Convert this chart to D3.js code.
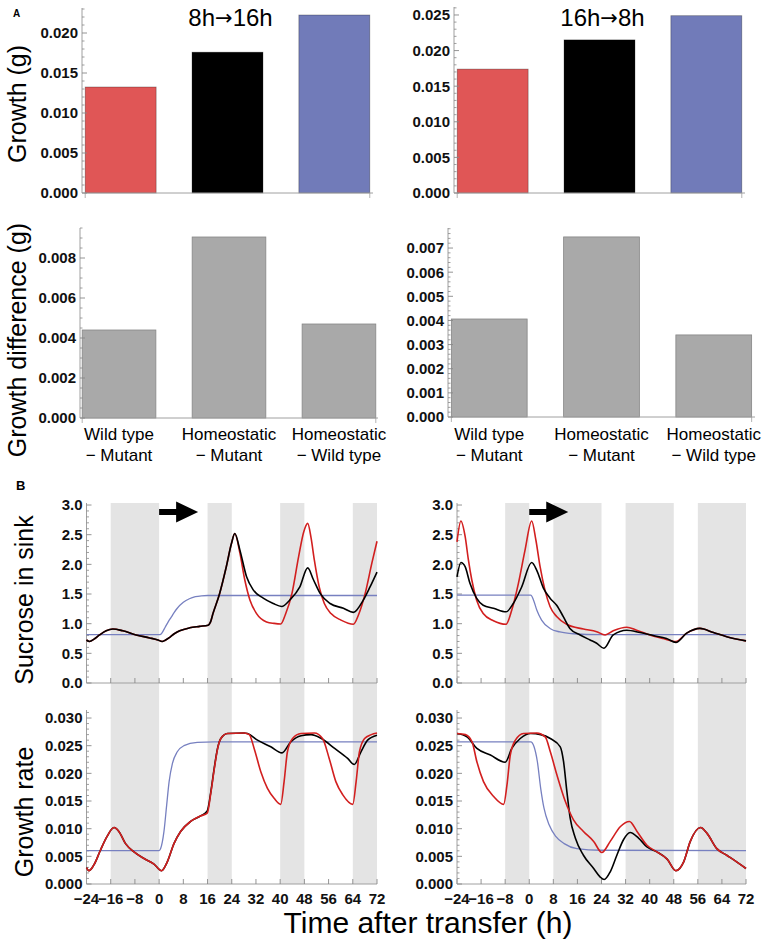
<!DOCTYPE html>
<html><head><meta charset="utf-8">
<script src="https://cdn.jsdelivr.net/npm/d3@7"></script>
<style>body{margin:0;background:#fff}</style>
</head><body><svg id="c" width="767" height="947"></svg>
<script>
// ---------- DATA ----------
const categories = ["Mutant", "Wild type", "Homeostatic"];
const barColors = ["#e05656", "#000000", "#717bb9"];
const growth8to16 = [0.01325, 0.0176, 0.02225];
const growth16to8 = [0.0174, 0.0215, 0.0249];
const diffLabels = [["Wild type", "− Mutant"], ["Homeostatic", "− Mutant"], ["Homeostatic", "− Wild type"]];
const diff8to16 = [0.0044, 0.00905, 0.0047];
const diff16to8 = [0.00406, 0.00746, 0.0034];
const titles = [["8h", "16h"], ["16h", "8h"]];
const timeTicks = [-24, -16, -8, 0, 8, 16, 24, 32, 40, 48, 56, 64, 72];
const dark8to16 = [[-16, 0], [16, 24], [40, 48], [64, 72]];
const dark16to8 = [[-8, 0], [8, 24], [32, 48], [56, 72]];

// Sucrose in sink, 8h -> 16h
const sucLD_homeo = [[-24,0.815],[0,0.815],[0.5,0.82],[1,0.85],[2,0.94],[3,1.03],[4,1.11],[5,1.19],[6,1.26],[8,1.36],[10,1.42],[12,1.455],[14,1.47],[16,1.475],[72,1.475]];
const sucLD_wt = [[-24,0.725],[-23,0.70],[-21.5,0.74],[-19.7,0.81],[-17.5,0.88],[-15.3,0.91],[-12,0.88],[-7.6,0.81],[-3.1,0.76],[-0.4,0.725],[1,0.70],[2,0.72],[3.5,0.77],[5,0.83],[6.8,0.88],[10.1,0.93],[13.4,0.955],[16.2,0.975],[17,1.03],[17.8,1.17],[20,1.51],[22.2,1.96],[23.9,2.35],[25,2.52],[26.7,2.24],[28.9,1.79],[31.1,1.57],[34.4,1.43],[37.7,1.34],[40.5,1.29],[43.2,1.40],[46.5,1.62],[49.1,1.94],[51,1.74],[53.2,1.51],[56.5,1.34],[60.9,1.26],[64.2,1.19],[67.5,1.40],[69.7,1.62],[72,1.87]];
const sucLD_mut = [[-24,0.725],[-23,0.70],[-21.5,0.74],[-19.7,0.81],[-17.5,0.88],[-15.3,0.91],[-12,0.88],[-7.6,0.81],[-3.1,0.76],[-0.4,0.725],[1,0.70],[2,0.72],[3.5,0.77],[5,0.83],[6.8,0.88],[10.1,0.93],[13.4,0.955],[16.2,0.975],[17,1.03],[17.8,1.17],[20,1.51],[22.2,1.96],[23.9,2.35],[25,2.52],[26.7,2.19],[28.3,1.74],[30,1.40],[32.2,1.17],[35.5,1.03],[38,1.005],[40.2,0.995],[41.7,1.15],[43.9,1.51],[46.1,2.13],[47.8,2.55],[49.1,2.69],[50.2,2.45],[51.3,2.07],[52.9,1.62],[54.6,1.34],[56.8,1.17],[60.1,1.06],[64.2,0.99],[65.9,1.15],[68.1,1.51],[70.3,2.02],[72,2.39]];

// Sucrose in sink, 16h -> 8h
const sucSD_homeo = [[-24,1.48],[0.5,1.48],[1.4,1.40],[2.5,1.23],[4.1,1.06],[6.9,0.92],[10.2,0.86],[14.6,0.83],[23.5,0.815],[72,0.815]];
const sucSD_wt = [[-24,1.79],[-22.7,2.03],[-21.3,1.96],[-19.7,1.68],[-17.5,1.43],[-15.3,1.31],[-11.9,1.26],[-7.7,1.20],[-5.3,1.34],[-2.5,1.62],[0.8,2.03],[2.5,1.90],[4.7,1.60],[6.9,1.43],[9.1,1.31],[11.3,1.12],[13.5,0.92],[16.9,0.81],[20.2,0.725],[22.4,0.67],[24.8,0.585],[27.9,0.81],[32.4,0.89],[36.8,0.85],[41.2,0.80],[45.6,0.75],[48.7,0.685],[52.3,0.84],[56.7,0.92],[61.2,0.85],[65.6,0.78],[72,0.71]];
const sucSD_mut = [[-24,2.38],[-22.7,2.73],[-21.3,2.47],[-20.2,2.07],[-19.1,1.74],[-17.5,1.40],[-15.3,1.17],[-11.9,1.05],[-7.7,0.99],[-5.8,1.23],[-3.6,1.68],[-1.4,2.24],[0.8,2.73],[2.2,2.41],[3.6,1.96],[5.2,1.57],[6.9,1.29],[9.1,1.12],[12.4,0.99],[18,0.91],[22.4,0.865],[25.2,0.81],[27.9,0.88],[32.4,0.94],[35.7,0.89],[40.1,0.81],[44.5,0.75],[48.7,0.70],[52.3,0.84],[56.7,0.92],[61.2,0.85],[65.6,0.78],[72,0.71]];

// Growth rate, 8h -> 16h
const grLD_homeo = [[-24,0.00605],[0,0.00605],[0.5,0.0064],[1.6,0.0095],[2.5,0.0143],[3.3,0.0185],[4.4,0.0218],[6,0.0239],[8.2,0.025],[12.6,0.0256],[18.2,0.0257],[72,0.0257]];
const grLD_wt = [[-24,0.00295],[-23.2,0.0024],[-21.6,0.0034],[-19.4,0.0061],[-17.2,0.0086],[-14.9,0.0102],[-13.3,0.0095],[-11.1,0.0073],[-8.3,0.0058],[-5,0.0046],[-1.7,0.0036],[0.8,0.0024],[2.7,0.004],[4.9,0.0073],[7.1,0.0095],[10.4,0.0113],[13.7,0.0123],[15.9,0.0132],[17.1,0.0167],[18.2,0.0209],[19.3,0.0245],[20.4,0.0263],[22.6,0.0272],[28.1,0.0273],[29.2,0.0272],[32.5,0.026],[36.9,0.0248],[40.6,0.0237],[43.5,0.0257],[46.9,0.0268],[50.2,0.027],[53.6,0.0263],[58,0.0245],[62.3,0.0227],[64.5,0.0216],[66.7,0.0239],[68.9,0.026],[72,0.0269]];
const grLD_mut = [[-24,0.00295],[-23.2,0.0024],[-21.6,0.0034],[-19.4,0.0061],[-17.2,0.0086],[-14.9,0.0102],[-13.3,0.0095],[-11.1,0.0073],[-8.3,0.0058],[-5,0.0046],[-1.7,0.0036],[0.8,0.0024],[2.7,0.004],[4.9,0.0073],[7.1,0.0095],[10.4,0.0113],[13.7,0.0123],[15.9,0.0128],[17.1,0.0165],[18.2,0.0207],[19.3,0.0244],[20.4,0.0263],[22.6,0.0272],[28.1,0.0273],[29.8,0.027],[31.4,0.0245],[33.6,0.0203],[35.8,0.0173],[38,0.0155],[40.2,0.0144],[41.3,0.0185],[42.4,0.0239],[44.1,0.0263],[46.9,0.0272],[51.3,0.0273],[54,0.0263],[56.2,0.0227],[58.4,0.0185],[60.7,0.0161],[64,0.0144],[65.1,0.0185],[66.2,0.0239],[67.9,0.0263],[70.1,0.027],[72,0.0273]];

// Growth rate, 16h -> 8h
const grSD_homeo = [[-24,0.0257],[0.5,0.0257],[1.6,0.0248],[2.7,0.0221],[3.8,0.0173],[4.9,0.0137],[6.6,0.0107],[8.8,0.0086],[11.6,0.0073],[15.8,0.0064],[23.6,0.0061],[72,0.00605]];
const grSD_wt = [[-24,0.0272],[-20.7,0.0266],[-17.4,0.0245],[-12.9,0.0233],[-8,0.022],[-5.8,0.0245],[-3,0.0263],[0.5,0.0272],[3.8,0.027],[7,0.0263],[10.3,0.0248],[11.4,0.0221],[12.5,0.0167],[13.6,0.0119],[15.3,0.0083],[18,0.0052],[21.4,0.0028],[23.5,0.0013],[24.9,0.0008],[26.9,0.0022],[29.1,0.0052],[31.3,0.008],[33.5,0.0093],[36.3,0.0083],[39.1,0.0067],[42.4,0.0058],[45.8,0.0045],[48.7,0.0024],[51.3,0.004],[53.5,0.0077],[56.9,0.0102],[59,0.0092],[62.3,0.0064],[65.6,0.0052],[68.9,0.004],[72,0.0028]];
const grSD_mut = [[-24,0.0272],[-21.2,0.027],[-19,0.0257],[-17.4,0.0221],[-15.2,0.0185],[-11.8,0.0158],[-8.5,0.0144],[-7.4,0.0179],[-6.3,0.0233],[-4.6,0.026],[-1.9,0.0272],[2.5,0.0273],[5.3,0.0266],[7,0.0239],[9.2,0.0197],[12,0.0149],[14.7,0.0116],[18,0.0095],[21.4,0.0077],[24.1,0.0057],[26.9,0.0077],[30.3,0.0104],[33.3,0.0113],[35.8,0.0095],[39.1,0.007],[42.4,0.0058],[45.8,0.0045],[48.7,0.0024],[51.3,0.004],[53.5,0.0077],[56.9,0.0102],[59,0.0092],[62.3,0.0064],[65.6,0.0052],[68.9,0.004],[72,0.0028]];

// ---------- DRAWING ----------
const svg = d3.select("#c");
const FONT = "'Liberation Sans', Arial, Helvetica, sans-serif";
const AXIS = "#a0a0a0";
const TICK = "#888";
const LINE_COL = {homeo: "#7780c0", wt: "#000000", mut: "#d21f1f"};

function yAxis(g, y, x, max, major, minor, fmt) {
  g.append("line").attr("x1", x).attr("x2", x).attr("y1", y(0)).attr("y2", y(max))
    .attr("stroke", AXIS).attr("stroke-width", 1);
  const minors = d3.range(0, max + 1e-12, minor).filter(v => Math.abs(v / major - Math.round(v / major)) > 1e-6);
  const majors = d3.range(0, max + 1e-12, major);
  g.selectAll(null).data(minors).join("line")
    .attr("x1", x).attr("x2", x + 2.5).attr("y1", d => y(d)).attr("y2", d => y(d))
    .attr("stroke", TICK).attr("stroke-width", 0.8);
  g.selectAll(null).data(majors).join("line")
    .attr("x1", x).attr("x2", x + 5).attr("y1", d => y(d)).attr("y2", d => y(d))
    .attr("stroke", TICK).attr("stroke-width", 0.9);
  g.selectAll(null).data(majors).join("text")
    .attr("x", x - 4).attr("y", d => y(d)).attr("dy", "0.36em")
    .attr("text-anchor", "end").attr("font-family", FONT).attr("font-weight", "bold")
    .attr("font-size", 15).attr("fill", "#111").text(d => fmt(d));
}

function barPanel(o) {
  const g = svg.append("g");
  const y = d3.scaleLinear().domain([0, o.max]).range([o.yZero, o.yTop]);
  const x = d3.scaleBand().domain(categories).range([o.x0, o.x1]).paddingInner(o.pi).paddingOuter(o.po);
  g.selectAll(null).data(o.values).join("rect")
    .attr("x", (d, i) => x(categories[i])).attr("width", x.bandwidth())
    .attr("y", d => y(d)).attr("height", d => y(0) - y(d))
    .attr("fill", (d, i) => o.colors ? o.colors[i] : "#a9a9a9")
    .attr("stroke", o.colors ? "rgba(0,0,0,0.35)" : "#878787").attr("stroke-width", 0.8);
  g.append("line").attr("x1", o.x0).attr("x2", o.x1).attr("y1", y(0)).attr("y2", y(0))
    .attr("stroke", AXIS).attr("stroke-width", 1);
  [x(categories[0]), x(categories[2]) + x.bandwidth()].forEach(px => {
    g.append("line").attr("x1", px).attr("x2", px).attr("y1", y(0)).attr("y2", y(0) + 5)
      .attr("stroke", AXIS).attr("stroke-width", 0.8);
  });
  yAxis(g, y, o.x0, o.max, o.major, o.minor, d3.format(".3f"));
  if (o.title) {
    const t = g.append("text").attr("x", (o.x0 + o.x1) / 2 + 3).attr("y", 26).attr("text-anchor", "middle")
      .attr("font-family", FONT).attr("font-size", 24);
    t.append("tspan").text(o.title[0]);
    t.append("tspan").attr("font-family", "'DejaVu Sans', sans-serif").attr("font-size", 21).attr("dy", -1).text("→");
    t.append("tspan").attr("dy", 1).text(o.title[1]);
  }
  if (o.labels) {
    o.labels.forEach((lab, i) => {
      const cx = x(categories[i]) + x.bandwidth() / 2;
      g.append("text").attr("x", cx).attr("y", 440).attr("text-anchor", "middle")
        .attr("font-family", FONT).attr("font-size", 17).text(lab[0]);
      g.append("text").attr("x", cx).attr("y", 461).attr("text-anchor", "middle")
        .attr("font-family", FONT).attr("font-size", 17).text(lab[1]);
    });
  }
}

barPanel({x0: 82, x1: 373, yZero: 193, yTop: 8, max: 0.023125, major: 0.005, minor: 0.001,
  values: growth8to16, colors: barColors, pi: 0.336, po: 0.03, title: titles[0]});
barPanel({x0: 454, x1: 745, yZero: 193, yTop: 7, max: 0.02612, major: 0.005, minor: 0.001,
  values: growth16to8, colors: barColors, pi: 0.336, po: 0.03, title: titles[1]});
barPanel({x0: 80, x1: 378, yZero: 418, yTop: 228, max: 0.0095, major: 0.002, minor: 0.0005,
  values: diff8to16, pi: 0.33, po: 0.02, labels: diffLabels});
barPanel({x0: 448, x1: 755, yZero: 417, yTop: 228, max: 0.00783, major: 0.001, minor: 0.0002,
  values: diff16to8, pi: 0.325, po: 0.03, labels: diffLabels});

// ---- Panel B ----
function column(o) {
  const x = d3.scaleLinear().domain([-24, 72]).range([o.x0, o.x1]);
  const g = svg.append("g");
  g.selectAll(null).data(o.dark).join("rect")
    .attr("x", d => x(d[0])).attr("width", d => x(d[1]) - x(d[0]))
    .attr("y", 503).attr("height", 884 - 503).attr("fill", "#e4e4e4");
  const ax = x(0), ay = 512;
  g.append("path").attr("d", d3.line()([[ax, ay - 3], [ax + 17, ay - 3], [ax + 17, ay - 10.5], [ax + 39, ay],
    [ax + 17, ay + 10.5], [ax + 17, ay + 3], [ax, ay + 3]]) + "Z").attr("fill", "#000");

  o.panels.forEach(p => {
    const y = d3.scaleLinear().domain([0, p.max]).range([p.yZero, p.yTop]);
    const pg = g.append("g");
    pg.append("line").attr("x1", o.x0).attr("x2", o.x1).attr("y1", y(0)).attr("y2", y(0))
      .attr("stroke", AXIS).attr("stroke-width", 1);
    pg.selectAll(null).data(timeTicks).join("line")
      .attr("x1", d => x(d)).attr("x2", d => x(d)).attr("y1", y(0)).attr("y2", y(0) - 5)
      .attr("stroke", TICK).attr("stroke-width", 0.9);
    if (p.xLabels) {
      pg.selectAll(null).data(timeTicks).join("text")
        .attr("x", d => x(d)).attr("y", 904).attr("text-anchor", "middle")
        .attr("font-family", FONT).attr("font-weight", "bold").attr("font-size", 15).attr("fill", "#111")
        .text(d => d < 0 ? "−" + Math.abs(d) : d);
    }
    yAxis(pg, y, o.x0, p.max, p.major, p.minor, p.fmt);
    const line = d3.line().x(d => x(d[0])).y(d => y(d[1])).curve(d3.curveMonotoneX);
    p.series.forEach(s => {
      pg.append("path").attr("d", line(s.data)).attr("fill", "none")
        .attr("stroke", LINE_COL[s.key]).attr("stroke-width", s.key === "homeo" ? 1.3 : 1.6);
    });
  });
}

column({x0: 86.5, x1: 377, dark: dark8to16, panels: [
  {yZero: 683, yTop: 503, max: 3.034, major: 0.5, minor: 0.1, fmt: d3.format(".1f"),
   series: [{key: "homeo", data: sucLD_homeo}, {key: "mut", data: sucLD_mut}, {key: "wt", data: sucLD_wt}]},
  {yZero: 884, yTop: 710, max: 0.03145, major: 0.005, minor: 0.001, fmt: d3.format(".3f"), xLabels: true,
   series: [{key: "homeo", data: grLD_homeo}, {key: "wt", data: grLD_wt}, {key: "mut", data: grLD_mut}]}
]});
column({x0: 457, x1: 746, dark: dark16to8, panels: [
  {yZero: 683, yTop: 503, max: 3.034, major: 0.5, minor: 0.1, fmt: d3.format(".1f"),
   series: [{key: "homeo", data: sucSD_homeo}, {key: "mut", data: sucSD_mut}, {key: "wt", data: sucSD_wt}]},
  {yZero: 884, yTop: 710, max: 0.03145, major: 0.005, minor: 0.001, fmt: d3.format(".3f"), xLabels: true,
   series: [{key: "homeo", data: grSD_homeo}, {key: "wt", data: grSD_wt}, {key: "mut", data: grSD_mut}]}
]});

function vLabel(text, x, y, size) {
  svg.append("text").attr("transform", `translate(${x},${y}) rotate(-90)`).attr("text-anchor", "middle")
    .attr("font-family", FONT).attr("font-size", size).text(text);
}
vLabel("Growth (g)", 26, 104, 25);
vLabel("Growth difference (g)", 26, 340, 25);
vLabel("Sucrose in sink", 33, 600, 25);
vLabel("Growth rate", 33, 812, 25);
svg.append("text").attr("x", 428).attr("y", 933).attr("text-anchor", "middle")
  .attr("font-family", FONT).attr("font-size", 30).text("Time after transfer (h)");
svg.append("text").attr("x", 13).attr("y", 17).attr("font-family", FONT).attr("font-weight", "bold")
  .attr("font-size", 10).text("A");
svg.append("text").attr("x", 16).attr("y", 490).attr("font-family", FONT).attr("font-weight", "bold")
  .attr("font-size", 13).text("B");
</script></body></html>
